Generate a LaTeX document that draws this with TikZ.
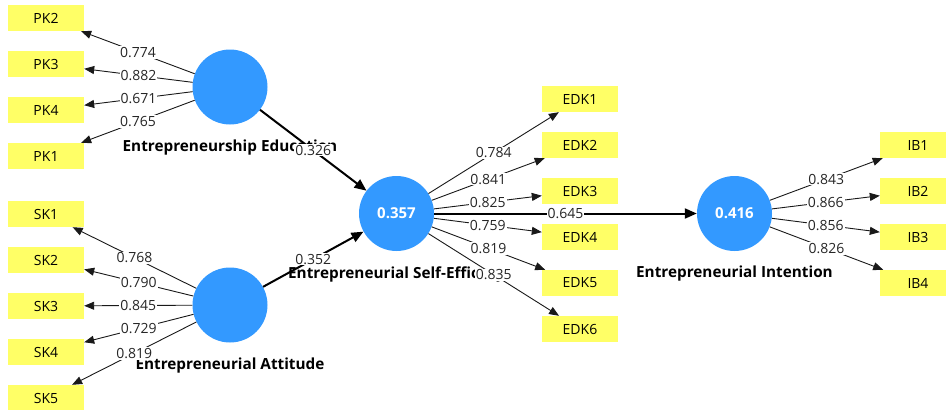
\documentclass[tikz,border=0pt]{standalone}
\usepackage{fontspec}
\setmainfont{Open Sans}
\usetikzlibrary{arrows.meta}
\definecolor{boxyellow}{RGB}{255,255,102}
\definecolor{latblue}{RGB}{51,153,255}
\begin{document}
\begin{tikzpicture}[x=1pt,y=-1pt,
  ind/.style={rectangle,fill=boxyellow,minimum width=76pt,minimum height=26pt,inner sep=0pt,font=\fontsize{14}{16}\selectfont},
  lat/.style={circle,fill=latblue,minimum size=75pt,inner sep=0pt,text=white,font=\fontsize{15}{17}\selectfont\bfseries},
  latlabel/.style={font=\fontsize{15.3}{17}\selectfont\bfseries,inner sep=0pt},
  load/.style={draw=black!90,line width=0.9pt,-{Triangle[length=10pt,width=8pt]}},
  path/.style={draw=black,line width=2pt,-{Triangle[length=12pt,width=10pt]}},
  val/.style={fill=white,inner sep=1pt,text=black!85,font=\fontsize{14}{16}\selectfont}]
\useasboundingbox (0,0) rectangle (946,410);
\begin{scope}
\clip (0,0) rectangle (946,410);
% indicator boxes
\node[ind] (PK2) at (46,18) {PK2};
\node[ind] (PK3) at (46,64) {PK3};
\node[ind] (PK4) at (46,110) {PK4};
\node[ind] (PK1) at (46,156) {PK1};
\node[ind] (SK1) at (46,214) {SK1};
\node[ind] (SK2) at (46,260) {SK2};
\node[ind] (SK3) at (46,306) {SK3};
\node[ind] (SK4) at (46,352) {SK4};
\node[ind] (SK5) at (46,398) {SK5};
\node[ind] (EDK1) at (580,99) {EDK1};
\node[ind] (EDK2) at (580,145) {EDK2};
\node[ind] (EDK3) at (580,191) {EDK3};
\node[ind] (EDK4) at (580,237) {EDK4};
\node[ind] (EDK5) at (580,283) {EDK5};
\node[ind] (EDK6) at (580,329) {EDK6};
\node[ind] (IB1) at (918,145) {IB1};
\node[ind] (IB2) at (918,191) {IB2};
\node[ind] (IB3) at (918,237) {IB3};
\node[ind] (IB4) at (918,283) {IB4};
% latent variables
\node[lat] (EE) at (230,87) {};
\node[lat] (EA) at (230,305) {};
\node[lat] (ESE) at (396.5,213.5) {0.357};
\node[lat] (EI) at (734.5,213.5) {0.416};
\node[latlabel] (EEl) at (230,148) {Entrepreneurship Education};
\node[latlabel] (EAl) at (230,366) {Entrepreneurial Attitude};
\node[latlabel] (ESEl) at (396.5,274) {Entrepreneurial Self-Efficacy};
\node[latlabel] (EIl) at (734.5,274) {Entrepreneurial Intention};
% structural paths
\draw[path] (EE) -- node[val]{0.326} (ESE);
\draw[path] (EA) -- node[val]{0.352} (ESE);
\draw[path] (ESE) -- node[val]{0.645} (EI);
% loadings
\draw[load] (EE) -- node[val]{0.774} (PK2);
\draw[load] (EE) -- node[val]{0.882} (PK3);
\draw[load] (EE) -- node[val]{0.671} (PK4);
\draw[load] (EE) -- node[val]{0.765} (PK1);
\draw[load] (EA) -- node[val]{0.768} (SK1);
\draw[load] (EA) -- node[val]{0.790} (SK2);
\draw[load] (EA) -- node[val]{0.845} (SK3);
\draw[load] (EA) -- node[val]{0.729} (SK4);
\draw[load] (EA) -- node[val]{0.819} (SK5);
\draw[load] (ESE) -- node[val]{0.784} (EDK1);
\draw[load] (ESE) -- node[val]{0.841} (EDK2);
\draw[load] (ESE) -- node[val]{0.825} (EDK3);
\draw[load] (ESE) -- node[val]{0.759} (EDK4);
\draw[load] (ESE) -- node[val]{0.819} (EDK5);
\draw[load] (ESE) -- node[val]{0.835} (EDK6);
\draw[load] (EI) -- node[val]{0.843} (IB1);
\draw[load] (EI) -- node[val]{0.866} (IB2);
\draw[load] (EI) -- node[val]{0.856} (IB3);
\draw[load] (EI) -- node[val]{0.826} (IB4);
\end{scope}
\end{tikzpicture}
\end{document}
